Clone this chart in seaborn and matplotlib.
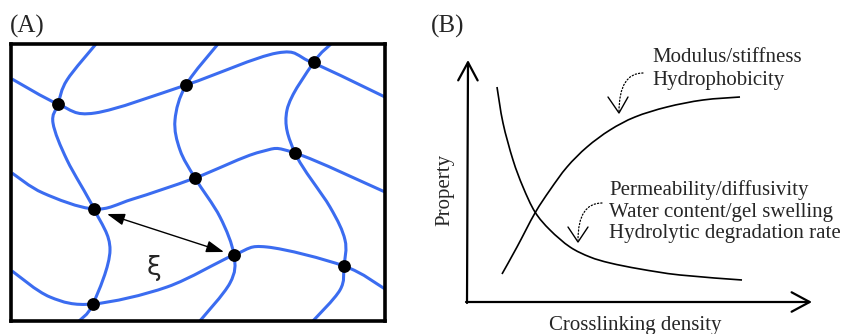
import numpy as np
import matplotlib
matplotlib.use('Agg')
import matplotlib.pyplot as plt
from matplotlib.path import Path
from matplotlib.patches import PathPatch
import seaborn as sns

# ---- panel A: network strands (pixel coords of the picture) ----
row1_x = [12, 58, 95, 186, 277, 313, 385]
row1_y = [79, 104, 113, 85, 53, 63, 97]
row2_x = [12, 43, 94, 133, 195, 260, 295, 385]
row2_y = [173, 193, 209, 199, 178, 152, 153, 192]
row3_x = [12, 50, 93, 167, 234, 267, 344, 385]
row3_y = [271, 297, 304, 287, 255, 247, 266, 289]
col1_x = [96, 67, 58, 53, 67, 94, 110, 93, 78]
col1_y = [44, 80, 104, 123, 160, 209, 250, 304, 322]
col2_x = [218, 186, 175, 180, 195, 220, 234, 230, 199]
col2_y = [44, 85, 120, 150, 178, 217, 255, 283, 322]
col3_x = [331, 314, 287, 295, 330, 345, 344, 340, 312]
col3_y = [44, 62, 110, 153, 207, 240, 266, 290, 322]

node_x = [58, 186, 314, 94, 195, 295, 234, 344, 93]
node_y = [104, 85, 62, 209, 178, 153, 255, 266, 304]

# mesh size arrow
xi_start = (107, 214)
xi_end = (224, 252)

# ---- panel B: property vs crosslinking density ----
rise_x = [502, 517, 535, 550, 567, 587, 610, 635, 667, 703, 740]
rise_y = [274, 247, 213, 190, 167, 147, 130, 117, 107, 100, 97]
fall_x = [497, 503, 513, 523, 535, 550, 570, 590, 610, 640, 680, 742]
fall_y = [87, 123, 160, 187, 212, 230, 247, 257, 263, 269, 275, 280]

upper_labels = ['Modulus/stiffness', 'Hydrophobicity']
lower_labels = ['Permeability/diffusivity', 'Water content/gel swelling',
                'Hydrolytic degradation rate']

BLUE = '#3b6cf0'


def smooth_path(xs, ys):
    pts = np.column_stack([xs, ys]).astype(float)
    P = np.vstack([pts[0], pts, pts[-1]])
    verts = [pts[0]]
    codes = [Path.MOVETO]
    for i in range(1, len(P) - 2):
        p0, p1, p2, p3 = P[i - 1], P[i], P[i + 1], P[i + 2]
        verts += [p1 + (p2 - p0) / 6, p2 - (p3 - p1) / 6, p2]
        codes += [Path.CURVE4] * 3
    return Path(verts, codes)


sns.set_theme(style='white')
plt.rcParams['font.family'] = ['Liberation Serif', 'DejaVu Serif']

W, H = 841, 334
fig = plt.figure(figsize=(W / 100, H / 100), dpi=100)

# background axes in pixel coordinates (panel B + labels)
ax = fig.add_axes([0, 0, 1, 1])
ax.set_xlim(0, W)
ax.set_ylim(H, 0)
ax.axis('off')

# panel A box
bx0, bx1, by0, by1 = 11.3, 384.5, 44, 321
axA = fig.add_axes([bx0 / W, 1 - by1 / H, (bx1 - bx0) / W, (by1 - by0) / H])
axA.set_xlim(bx0, bx1)
axA.set_ylim(by1, by0)
axA.set_xticks([])
axA.set_yticks([])
for s in axA.spines.values():
    s.set_linewidth(2.6)
    s.set_color('black')

for xs, ys in [(row1_x, row1_y), (row2_x, row2_y), (row3_x, row3_y),
               (col1_x, col1_y), (col2_x, col2_y), (col3_x, col3_y)]:
    axA.add_patch(PathPatch(smooth_path(xs, ys), fc='none', ec=BLUE, lw=2.2,
                            capstyle='butt'))

sns.scatterplot(x=node_x, y=node_y, ax=axA, color='black', s=85,
                linewidth=0, zorder=5, legend=False)

axA.annotate('', xy=xi_end, xytext=xi_start,
             arrowprops=dict(arrowstyle='<|-|>,head_length=0.9,head_width=0.3',
                             color='black', lw=1.0, shrinkA=0, shrinkB=0))
axA.text(154, 268, 'ξ', fontsize=19, family=['DejaVu Sans'],
         ha='center', va='center')

ax.text(10, 33, '(A)', fontsize=18, va='baseline', ha='left')
ax.text(431, 33, '(B)', fontsize=18, va='baseline', ha='left')

# panel B axes arrows
arrow_kw = dict(arrowstyle='->,head_length=1.3,head_width=0.7', color='black',
                lw=1.6, shrinkA=0, shrinkB=0, mutation_scale=10)
ax.annotate('', xy=(468, 60), xytext=(467, 303), arrowprops=arrow_kw)
ax.annotate('', xy=(812, 302), xytext=(466, 302), arrowprops=arrow_kw)

for xs, ys in [(rise_x, rise_y), (fall_x, fall_y)]:
    ax.add_patch(PathPatch(smooth_path(xs, ys), fc='none', ec='black', lw=1.2))

# dotted pointers with open heads
dot_kw = dict(arrowstyle='-', color='black', lw=0.9, linestyle=':',
              shrinkA=0, shrinkB=0,
              connectionstyle='angle3,angleA=0,angleB=90')
ax.annotate('', xy=(619, 112), xytext=(643, 73), arrowprops=dot_kw)
ax.plot([608, 619, 628], [97, 113, 97], color='black', lw=1.0)
ax.annotate('', xy=(578, 240), xytext=(602, 203), arrowprops=dot_kw)
ax.plot([568, 578, 588], [227, 242, 227], color='black', lw=1.0)

for i, t in enumerate(upper_labels):
    ax.text(652, 62 + 23 * i, t, fontsize=15, va='baseline', ha='left')
for i, t in enumerate(lower_labels):
    ax.text(609, 195 + 21.5 * i, t, fontsize=15, va='baseline', ha='left')

ax.text(445, 190, 'Property', fontsize=15, rotation=90, ha='center', va='center')
ax.text(635, 330, 'Crosslinking density', fontsize=15, ha='center', va='baseline')

fig.savefig('out.png', dpi=100)
